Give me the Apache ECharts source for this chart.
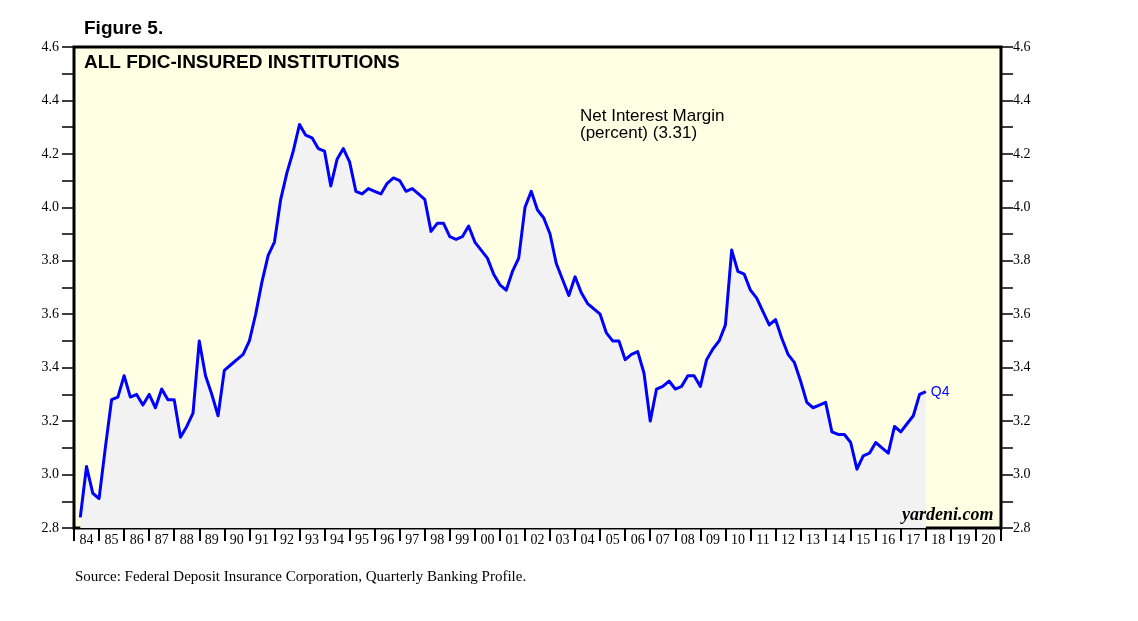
<!DOCTYPE html>
<html>
<head>
<meta charset="utf-8">
<script src="https://cdn.jsdelivr.net/npm/echarts@6/dist/echarts.min.js"></script>
<style>
html,body{margin:0;padding:0;background:#fff;}
#chart{width:1138px;height:621px;}
</style>
</head>
<body>
<div id="chart"></div>
<script>
// Year labels along the bottom axis (1984 .. 2020)
var yearLabels = ['84','85','86','87','88','89','90','91','92','93','94','95','96','97','98','99',
  '00','01','02','03','04','05','06','07','08','09','10','11','12','13','14','15','16','17','18','19','20'];
var firstYear = 1984;
// Net interest margin, percent, quarterly from 1984 Q1 to 2017 Q4
var nim1984to1990 = [
  2.84, 3.03, 2.93, 2.91,
  3.10, 3.28, 3.29, 3.37,
  3.29, 3.30, 3.26, 3.30,
  3.25, 3.32, 3.28, 3.28,
  3.14, 3.18, 3.23, 3.50,
  3.37, 3.30, 3.22, 3.39,
  3.41, 3.43, 3.45, 3.50
];
var nim1991to2002 = [
  3.60, 3.72, 3.82, 3.87,
  4.03, 4.13, 4.21, 4.31,
  4.27, 4.26, 4.22, 4.21,
  4.08, 4.18, 4.22, 4.17,
  4.06, 4.05, 4.07, 4.06,
  4.05, 4.09, 4.11, 4.10,
  4.06, 4.07, 4.05, 4.03,
  3.91, 3.94, 3.94, 3.89,
  3.88, 3.89, 3.93, 3.87,
  3.84, 3.81, 3.75, 3.71,
  3.69, 3.76, 3.81, 4.00,
  4.06, 3.99, 3.96, 3.90
];
var nim2003to2017 = [
  3.79, 3.73, 3.67, 3.74,
  3.68, 3.64, 3.62, 3.60,
  3.53, 3.50, 3.50, 3.43,
  3.45, 3.46, 3.38, 3.20,
  3.32, 3.33, 3.35, 3.32,
  3.33, 3.37, 3.37, 3.33,
  3.43, 3.47, 3.50, 3.56,
  3.84, 3.76, 3.75, 3.69,
  3.66, 3.61, 3.56, 3.58,
  3.51, 3.45, 3.42, 3.35,
  3.27, 3.25, 3.26, 3.27,
  3.16, 3.15, 3.15, 3.12,
  3.02, 3.07, 3.08, 3.12,
  3.10, 3.08, 3.18, 3.16,
  3.19, 3.22, 3.30, 3.31
];
var nimValues = nim1984to1990.concat(nim1991to2002, nim2003to2017);

// each quarter plotted at its quarter-end
var seriesData = nimValues.map(function (v, i) {
  return [firstYear + (i + 1) / 4, v];
});
var lastPoint = seriesData[seriesData.length - 1];

var chart = echarts.init(document.getElementById('chart'));
var serif = '"Liberation Serif", "Times New Roman", serif';
var sans = '"Liberation Sans", Arial, sans-serif';
function fmt(v) { return v.toFixed(1); }
chart.setOption({
  animation: false,
  grid: {
    left: 74, right: 137, top: 47, bottom: 93,
    show: true, backgroundColor: '#ffffe4', borderColor: '#000', borderWidth: 3
  },
  xAxis: [
    {
      type: 'category', data: yearLabels, boundaryGap: true, position: 'bottom',
      axisLine: { show: false },
      axisTick: { show: true, length: 13, lineStyle: { color: '#000', width: 2 } },
      axisLabel: { fontFamily: serif, fontSize: 14, color: '#000', margin: 5, interval: 0 },
      splitLine: { show: false }
    },
    {
      type: 'value', min: firstYear, max: firstYear + yearLabels.length, show: false,
      splitLine: { show: false }
    }
  ],
  yAxis: [
    {
      type: 'value', position: 'left', min: 2.8, max: 4.6, interval: 0.2,
      axisLine: { show: false },
      axisTick: { show: true, length: 12, lineStyle: { color: '#000', width: 1.5 } },
      minorTick: { show: true, splitNumber: 2, length: 12, lineStyle: { color: '#000', width: 1.5 } },
      axisLabel: { margin: 15, fontFamily: serif, fontSize: 14, color: '#000', formatter: fmt },
      splitLine: { show: false }
    },
    {
      type: 'value', position: 'right', min: 2.8, max: 4.6, interval: 0.2,
      axisLine: { show: false },
      axisTick: { show: true, length: 12, lineStyle: { color: '#000', width: 1.5 } },
      minorTick: { show: true, splitNumber: 2, length: 12, lineStyle: { color: '#000', width: 1.5 } },
      axisLabel: { margin: 12, fontFamily: serif, fontSize: 14, color: '#000', formatter: fmt },
      splitLine: { show: false }
    }
  ],
  series: [
    {
      type: 'line', xAxisIndex: 1, yAxisIndex: 0, data: seriesData,
      showSymbol: false, symbol: 'none',
      lineStyle: { color: '#0000ff', width: 3, join: 'round' },
      areaStyle: { color: '#f2f2f2', origin: 'start', opacity: 1 },
      z: 3,
      markPoint: {
        symbol: 'circle', symbolSize: 0,
        data: [{ coord: lastPoint, value: 'Q4' }],
        label: { show: true, formatter: 'Q4', position: 'right', distance: 5,
          color: '#0000ff', fontFamily: sans, fontSize: 14 }
      }
    }
  ],
  graphic: [
    { type: 'text', left: 84, top: 19, style: { text: 'Figure 5.', fill: '#000',
      font: 'bold 19px ' + sans } },
    { type: 'text', left: 84, top: 53, z: 10, style: { text: 'ALL FDIC-INSURED INSTITUTIONS', fill: '#000',
      font: 'bold 19px ' + sans } },
    { type: 'text', left: 580, top: 108, z: 10, style: { text: 'Net Interest Margin\n(percent) (3.31)', fill: '#000',
      font: '17px ' + sans, lineHeight: 17 } },
    { type: 'text', left: 902, top: 506, z: 10, style: { text: 'yardeni.com', fill: '#000',
      font: 'italic bold 18px ' + serif } },
    { type: 'text', left: 75, top: 570, style: { text: 'Source: Federal Deposit Insurance Corporation, Quarterly Banking Profile.', fill: '#000',
      font: '15px ' + serif } }
  ]
});
</script>
</body>
</html>
